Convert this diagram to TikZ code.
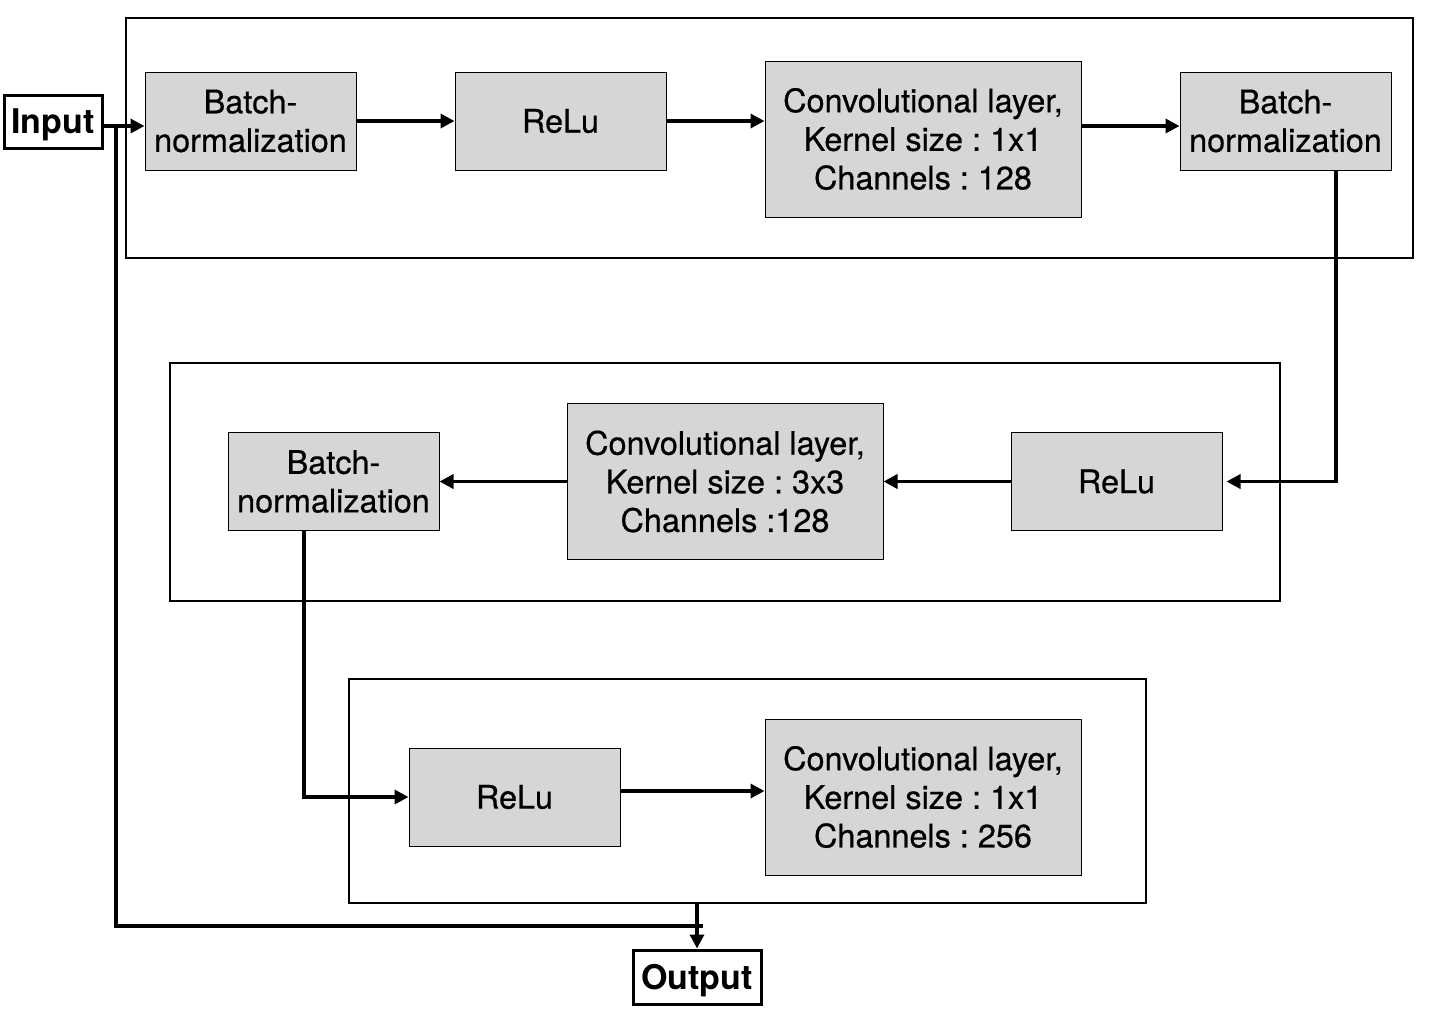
\documentclass[tikz,border=0pt]{standalone}
\usepackage{fontspec}
\setmainfont{TeX Gyre Heros}
\newfontfamily\medfont[FakeBold=0.5]{TeX Gyre Heros}
\usetikzlibrary{arrows.meta}
\definecolor{boxgray}{HTML}{D6D6D6}
\frenchspacing
\begin{document}
\begin{tikzpicture}[x=0.5pt,y=-0.5pt,
  blk/.style={draw=black, line width=0.5pt, fill=boxgray, minimum width=105.5pt, minimum height=49pt, inner sep=0pt, align=center, font=\medfont\fontsize{16.2}{19.3}\selectfont},
  convblk/.style={blk, minimum width=158pt, minimum height=78pt},
  io/.style={draw=black, line width=1.5pt, fill=white, inner sep=0pt, text height=12.2pt, text depth=0pt, font=\fontsize{17}{20}\selectfont\bfseries},
  frame/.style={draw=black, line width=0.6pt, inner sep=0pt},
  conn/.style={draw=black, line width=1.8pt, -{Triangle[length=7pt,width=7pt]}},
  plainline/.style={draw=black, line width=1.8pt}
]
\useasboundingbox (0,0) rectangle (1430,1014);

% group frames
\node[frame, minimum width=643.5pt, minimum height=120pt] (g1) at (769.5,138) {};
\node[frame, minimum width=555pt, minimum height=119pt] (g2) at (725,482) {};
\node[frame, minimum width=398.5pt, minimum height=112pt] (g3) at (747.5,791) {};

% row 1
\node[blk] (bn1) at (250.5,121) {Batch-\\normalization};
\node[blk] (relu1) at (560.5,121) {ReLu};
\node[convblk] (conv1) at (923,139) {Convolutional layer,\\Kernel size : 1x1\\Channels : 128};
\node[blk] (bn2) at (1285.5,121) {Batch-\\normalization};

% row 2
\node[blk] (bn3) at (333.5,481.5) {Batch-\\normalization};
\node[convblk] (conv2) at (725,481.5) {Convolutional layer,\\Kernel size : 3x3\\Channels :128};
\node[blk] (relu2) at (1116.5,481.5) {ReLu};

% row 3
\node[blk] (relu3) at (514.5,797) {ReLu};
\node[convblk] (conv3) at (923,797) {Convolutional layer,\\Kernel size : 1x1\\Channels : 256};

% input / output
\node[io, minimum width=49pt, minimum height=26.5pt] (inp) at (53,121.5) {Input};
\node[io, minimum width=64pt, minimum height=27pt] (out) at (697,977) {Output};

% helper coordinates
\coordinate (inA) at ([yshift=-2.5pt]bn1.west);
\coordinate (skipTop) at (116,126);
\coordinate (skipBot) at (116,926);
\coordinate (skipEnd) at (703,926);
\coordinate (c2b) at ([yshift=-2.5pt]bn2.west);
\coordinate (r3c) at ([yshift=3pt]conv3.west);

% connectors
\draw[conn] (inA -| inp.east) -- (inA);
\draw[conn] (bn1) -- (relu1);
\draw[conn] (relu1.east) -- (relu1.east -| conv1.west);
\draw[conn] (c2b -| conv1.east) -- (c2b);
\draw[conn] ([xshift=25.25pt]bn2.south) |- ([xshift=2pt]relu2.east);
\draw[conn] (relu2.west) -- (relu2.west -| conv2.east);
\draw[conn] (conv2.west) -- (conv2.west -| bn3.east);
\draw[conn] ([xshift=-14.75pt]bn3.south) |- (relu3.west);
\draw[conn] (r3c -| relu3.east) -- (r3c);
\draw[plainline] (skipTop) -- (skipBot) -- (skipEnd);
\draw[conn] (out.north |- g3.south) -- (out.north);
\end{tikzpicture}
\end{document}
